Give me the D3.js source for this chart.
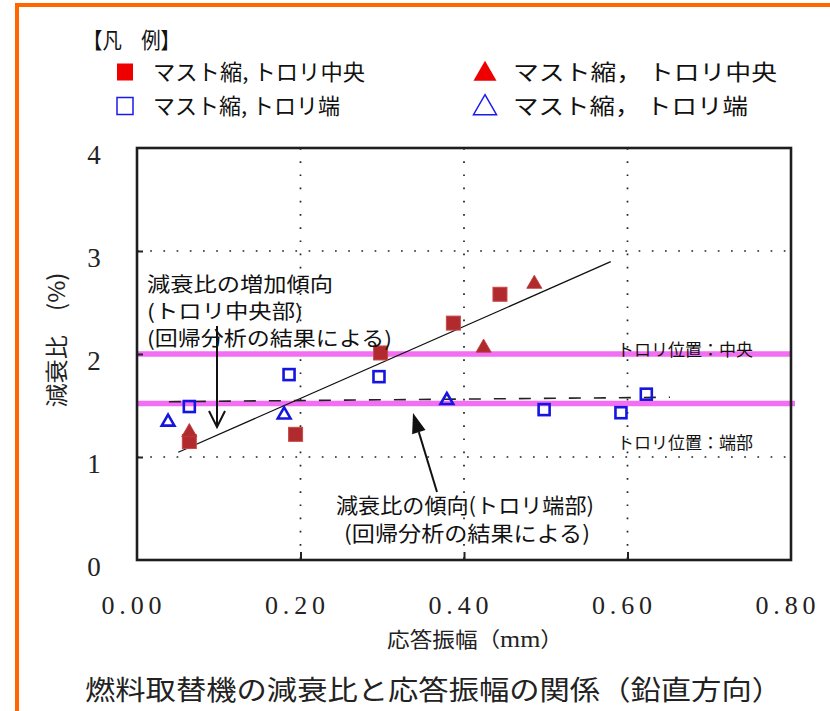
<!DOCTYPE html>
<html><head><meta charset="utf-8">
<script src="https://cdn.jsdelivr.net/npm/d3@7"></script>
<style>
html,body{margin:0;padding:0;background:#fff;}
svg{display:block;}
</style></head>
<body>
<script>
// ---- data ----
const xTickValues = [0, 0.2, 0.4, 0.6, 0.8];
const xTickLabels = ["0.00", "0.20", "0.40", "0.60", "0.80"];
const yTickValues = [0, 1, 2, 3, 4];
const yTickLabels = ["0", "1", "2", "3", "4"];

const redSquareX = [0.064, 0.194, 0.298, 0.387, 0.444];
const redSquareY = [1.15, 1.22, 2.01, 2.30, 2.58];
const redTriX = [0.064, 0.424, 0.486];
const redTriY = [1.24, 2.06, 2.68];
const blueSquareX = [0.064, 0.186, 0.296, 0.498, 0.592, 0.623];
const blueSquareY = [1.49, 1.80, 1.78, 1.46, 1.43, 1.61];
const blueTriX = [0.038, 0.180, 0.379];
const blueTriY = [1.34, 1.41, 1.55];

const centerTrendX = [0.0505, 0.5795];
const centerTrendY = [1.046, 2.896];
const endTrendX = [0.039, 0.652];
const endTrendY = [1.537, 1.58];
const refLevels = [2.0, 1.52];
const refLabels = ["トロリ位置：中央", "トロリ位置：端部"];

const legendLabels = ["マスト縮, トロリ中央", "マスト縮, トロリ端", "マスト縮， トロリ中央", "マスト縮， トロリ端"];

// ---- drawing ----
const W = 830, H = 711;
const svg = d3.select("body").append("svg").attr("width", W).attr("height", H);
const JP = "'Noto Sans CJK JP', sans-serif";
const SERIF = "'Liberation Serif', 'DejaVu Serif', serif";

const x = d3.scaleLinear().domain([0, 0.8]).range([137, 791]);
const y = d3.scaleLinear().domain([0, 4]).range([560, 148]);

// orange page border
svg.append("line").attr("x1", 17).attr("x2", 17).attr("y1", 3).attr("y2", H)
  .attr("stroke", "#FF6600").attr("stroke-width", 4);
svg.append("line").attr("x1", 15).attr("x2", W).attr("y1", 5).attr("y2", 5)
  .attr("stroke", "#FF6600").attr("stroke-width", 4);

// legend
svg.append("text").attr("x", 83).attr("y", 48).attr("font-family", JP).attr("font-size", 22)
  .attr("fill", "#111").attr("textLength", 97).attr("lengthAdjust", "spacingAndGlyphs").text("【凡　例】");
const legRows = [
  {sx: 125, sy: 72, type: "sq", fill: "#EE0000", stroke: "none", tx: 153, tl: 212, label: legendLabels[0]},
  {sx: 125, sy: 106, type: "sq", fill: "none", stroke: "#1a1aee", tx: 153, tl: 187, label: legendLabels[1]},
  {sx: 485, sy: 72, type: "tri", fill: "#EE0000", stroke: "none", tx: 513, tl: 264, label: legendLabels[2]},
  {sx: 485, sy: 106, type: "tri", fill: "none", stroke: "#1a1aee", tx: 513, tl: 235, label: legendLabels[3]}
];
legRows.forEach(r => {
  if (r.type === "sq") {
    svg.append("rect").attr("x", r.sx - 8).attr("y", r.sy - 8.5).attr("width", 16).attr("height", 17)
      .attr("fill", r.fill).attr("stroke", r.stroke).attr("stroke-width", 1.5);
  } else {
    svg.append("path").attr("d", d3.symbol(d3.symbolTriangle, 230)())
      .attr("transform", `translate(${r.sx},${r.sy + 2})`)
      .attr("fill", r.fill).attr("stroke", r.stroke).attr("stroke-width", 1.5);
  }
  svg.append("text").attr("x", r.tx).attr("y", r.sy + 8).attr("font-family", JP).attr("font-size", 22)
    .attr("fill", "#111").attr("textLength", r.tl).attr("lengthAdjust", "spacingAndGlyphs").text(r.label);
});

// grid
const gridG = svg.append("g");
[0.2, 0.4, 0.6].forEach(v => {
  gridG.append("line").attr("x1", x(v)).attr("x2", x(v)).attr("y1", y(4)).attr("y2", y(0))
    .attr("stroke", "#222").attr("stroke-width", 1.7).attr("stroke-dasharray", "1.7,11.5");
});
[1, 2, 3].forEach(v => {
  gridG.append("line").attr("x1", x(0)).attr("x2", x(0.8)).attr("y1", y(v)).attr("y2", y(v))
    .attr("stroke", "#222").attr("stroke-width", 1.7).attr("stroke-dasharray", "1.7,11.5");
});

// reference (pink) lines
refLevels.forEach((v, i) => {
  svg.append("line").attr("x1", x(0)).attr("x2", x(0.8) + (i === 1 ? 4 : 0)).attr("y1", y(v)).attr("y2", y(v))
    .attr("stroke", "#F26EF2").attr("stroke-width", 5.5);
});

// axes (frame, ticks, labels)
const xAxis = d3.axisBottom(x).tickValues(xTickValues).tickFormat((d, i) => xTickLabels[i])
  .tickSize(-8).tickPadding(40);
const gx = svg.append("g").attr("transform", `translate(0,${y(0)})`).call(xAxis);
gx.select(".domain").remove();
gx.selectAll(".tick line").attr("stroke", "#222").attr("stroke-width", 2)
  .filter(d => d === 0 || d === 0.8).remove();
gx.selectAll(".tick text").attr("font-family", SERIF).attr("font-size", 26).attr("fill", "#222")
  .attr("x", -6).attr("y", 54).attr("dy", 0)
  .attr("textLength", 60).attr("lengthAdjust", "spacing");

const yAxis = d3.axisLeft(y).tickValues(yTickValues).tickFormat((d, i) => yTickLabels[i])
  .tickSize(-6).tickPadding(10);
const gy = svg.append("g").attr("transform", `translate(${x(0)},0)`).call(yAxis);
gy.select(".domain").remove();
gy.selectAll(".tick line").attr("stroke", "#222").attr("stroke-width", 2)
  .filter(d => d === 0 || d === 4).remove();
gy.selectAll(".tick text").attr("font-family", SERIF).attr("font-size", 27).attr("fill", "#222")
  .attr("text-anchor", "middle").attr("x", -43).attr("dy", 0).attr("y", 15);

// frame
svg.append("rect").attr("x", x(0)).attr("y", y(4)).attr("width", x(0.8) - x(0)).attr("height", y(0) - y(4))
  .attr("fill", "none").attr("stroke", "#1e1e1e").attr("stroke-width", 2.6);

// trend lines
const line = d3.line().x(d => x(d[0])).y(d => y(d[1]));
svg.append("path").attr("d", line(d3.zip(centerTrendX, centerTrendY)))
  .attr("stroke", "#111").attr("stroke-width", 1.3).attr("fill", "none");
svg.append("path").attr("d", line(d3.zip(endTrendX, endTrendY)))
  .attr("stroke", "#222").attr("stroke-width", 1.6).attr("fill", "none").attr("stroke-dasharray", "12,13");

// markers
const mk = svg.append("g");
d3.zip(blueTriX, blueTriY).forEach(d => {
  mk.append("path").attr("d", d3.symbol(d3.symbolTriangle, 70)())
    .attr("transform", `translate(${x(d[0])},${y(d[1])})`)
    .attr("fill", "none").attr("stroke", "#1515e0").attr("stroke-width", 2.6);
});
d3.zip(blueSquareX, blueSquareY).forEach(d => {
  mk.append("rect").attr("x", x(d[0]) - 5.5).attr("y", y(d[1]) - 5.5).attr("width", 11).attr("height", 11)
    .attr("fill", "none").attr("stroke", "#1515e0").attr("stroke-width", 2.6);
});
d3.zip(redSquareX, redSquareY).forEach(d => {
  mk.append("rect").attr("x", x(d[0]) - 7).attr("y", y(d[1]) - 7).attr("width", 14).attr("height", 14)
    .attr("fill", "#B02A2E").attr("stroke", "#c84848").attr("stroke-width", 1);
});
d3.zip(redTriX, redTriY).forEach(d => {
  mk.append("path").attr("d", d3.symbol(d3.symbolTriangle, 100)())
    .attr("transform", `translate(${x(d[0])},${y(d[1])})`)
    .attr("fill", "#B02A2E").attr("stroke", "#c03c3c").attr("stroke-width", 0.8);
});

// reference labels
svg.append("text").attr("x", 617).attr("y", y(refLevels[0]) + 2).attr("font-family", JP).attr("font-size", 17)
  .attr("fill", "#111").attr("textLength", 136).attr("lengthAdjust", "spacingAndGlyphs").text(refLabels[0]);
svg.append("text").attr("x", 617).attr("y", 449).attr("font-family", JP).attr("font-size", 17)
  .attr("fill", "#111").attr("textLength", 136).attr("lengthAdjust", "spacingAndGlyphs").text(refLabels[1]);

// annotation 1
const a1 = ["減衰比の増加傾向", "(トロリ中央部)", "(回帰分析の結果による)"];
const a1w = [186, 156, 245];
a1.forEach((t, i) => {
  svg.append("text").attr("x", 147).attr("y", 292 + i * 27).attr("font-family", JP).attr("font-size", 20)
    .attr("fill", "#111").attr("textLength", a1w[i]).attr("lengthAdjust", "spacingAndGlyphs").text(t);
});
svg.append("line").attr("x1", 217).attr("x2", 217).attr("y1", 326).attr("y2", 426)
  .attr("stroke", "#111").attr("stroke-width", 2);
svg.append("path").attr("d", "M209,411 L217,427 L225,411").attr("fill", "none")
  .attr("stroke", "#111").attr("stroke-width", 2);

// annotation 2
const a2 = ["減衰比の傾向(トロリ端部)", "(回帰分析の結果による)"];
const a2x = [336, 344], a2w = [258, 246];
a2.forEach((t, i) => {
  svg.append("text").attr("x", a2x[i]).attr("y", 513 + i * 28).attr("font-family", JP).attr("font-size", 21)
    .attr("fill", "#111").attr("textLength", a2w[i]).attr("lengthAdjust", "spacingAndGlyphs").text(t);
});
{
  const tip = [413, 413], tail = [437, 492];
  const ang = Math.atan2(tip[1] - tail[1], tip[0] - tail[0]);
  const L = 20, Wd = 7;
  const bx = tip[0] - L * Math.cos(ang), by = tip[1] - L * Math.sin(ang);
  const px = -Math.sin(ang) * Wd, py = Math.cos(ang) * Wd;
  svg.append("line").attr("x1", tail[0]).attr("y1", tail[1]).attr("x2", bx).attr("y2", by)
    .attr("stroke", "#111").attr("stroke-width", 2);
  svg.append("path").attr("d", `M${tip[0]},${tip[1]} L${bx + px},${by + py} L${bx - px},${by - py} Z`)
    .attr("fill", "#111");
}

// axis titles
svg.append("text").attr("transform", "translate(65,340) rotate(-90)").attr("text-anchor", "middle")
  .attr("font-family", JP).attr("font-size", 23).attr("fill", "#222")
  .attr("textLength", 135).attr("lengthAdjust", "spacingAndGlyphs").text("減衰比　(%)");
const xt = svg.append("text").attr("x", 387).attr("y", 647).attr("font-family", JP).attr("font-size", 21)
  .attr("fill", "#222").attr("textLength", 176).attr("lengthAdjust", "spacingAndGlyphs");
xt.append("tspan").text("応答振幅（");
xt.append("tspan").attr("font-family", SERIF).attr("font-size", 24).text("mm");
xt.append("tspan").text("）");

// title
svg.append("text").attr("x", 85).attr("y", 700).attr("font-family", JP).attr("font-size", 27).attr("fill", "#222")
  .attr("textLength", 697).attr("lengthAdjust", "spacingAndGlyphs").text("燃料取替機の減衰比と応答振幅の関係（鉛直方向）");
</script>
</body></html>
